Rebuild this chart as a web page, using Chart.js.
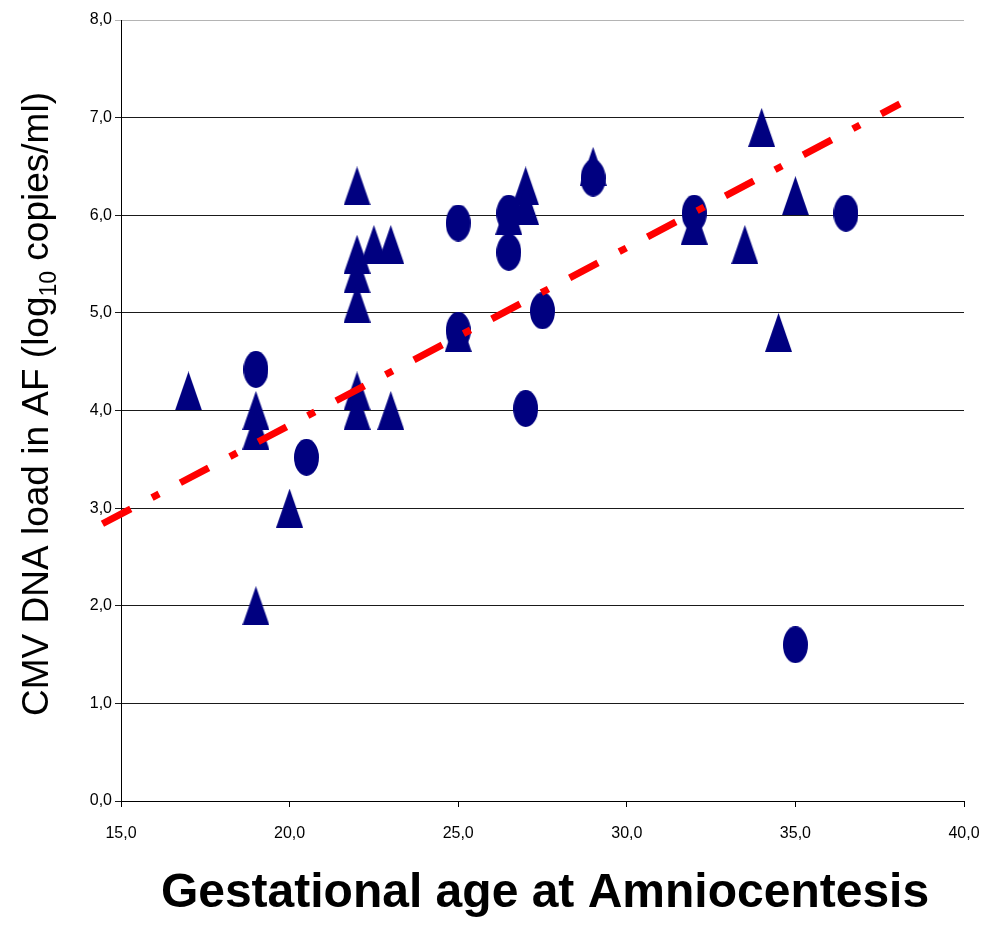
<!DOCTYPE html>
<html lang="en">
<head>
    <meta charset="UTF-8">
    <title>CMV DNA load in AF</title>
    <script src="https://cdn.jsdelivr.net/npm/chart.js"></script>
    <style>
        body { margin: 0; padding: 0; background-color: white; }
        #wrap { width: 981px; height: 925px; }
    </style>
</head>
<body>
    <div id="wrap"><canvas id="cmvChart" width="981" height="925"></canvas></div>
    <script>
        // Triangle markers (gestational age, log10 copies/ml)
        const triX = [17, 19, 19, 19, 20, 22, 22, 22, 22, 22, 22, 22.5, 23, 23, 25, 26.5, 27, 27, 29, 32, 33.5, 34, 34.5, 35];
        const triY = [4.2, 2.0, 4.0, 3.8, 3.0, 6.3, 5.6, 5.4, 5.1, 4.2, 4.0, 5.7, 5.7, 4.0, 4.8, 6.0, 6.3, 6.1, 6.5, 5.9, 5.7, 6.9, 4.8, 6.2];

        // Circle markers
        const circX = [19, 20.5, 25, 25, 26.5, 26.5, 27, 27.5, 29, 32, 35, 36.5];
        const circY = [4.42, 3.52, 5.92, 4.82, 6.02, 5.62, 4.02, 5.02, 6.38, 6.02, 1.6, 6.02];

        // Linear trend line (ends)
        const trendX = [14.45, 38.1];
        const trendY = [2.84, 7.14];

        const xTicks = [15, 20, 25, 30, 35, 40];
        const yTicks = [0, 1, 2, 3, 4, 5, 6, 7, 8];

        const navy = '#000080';
        const tickFont = { family: '"Liberation Sans Narrow", "Liberation Sans", Arial, sans-serif', size: 16 };

        function toPoints(xs, ys) {
            return xs.map((x, i) => ({ x: x, y: ys[i] }));
        }

        function fmt(v) {
            return Number(v).toFixed(1).replace('.', ',');
        }

        // Excel-like markers: tall triangle and tall ellipse
        function makeTriangle(w, h, color) {
            const c = document.createElement('canvas');
            c.width = w; c.height = h;
            const g = c.getContext('2d');
            g.fillStyle = color;
            g.beginPath();
            g.moveTo(w / 2, 0);
            g.lineTo(w, h);
            g.lineTo(0, h);
            g.closePath();
            g.fill();
            return c;
        }

        function makeEllipse(w, h, color) {
            const c = document.createElement('canvas');
            c.width = w; c.height = h;
            const g = c.getContext('2d');
            g.fillStyle = color;
            g.beginPath();
            g.ellipse(w / 2, h / 2, w / 2, h / 2, 0, 0, Math.PI * 2);
            g.fill();
            return c;
        }

        const triImg = makeTriangle(27, 39, navy);
        const ellImg = makeEllipse(25, 37, navy);

        // Axis titles (y title needs a real subscript)
        const axisTitles = {
            id: 'axisTitles',
            afterDraw(chart) {
                const ctx = chart.ctx;
                ctx.save();
                ctx.fillStyle = '#000';
                ctx.textBaseline = 'alphabetic';

                ctx.font = 'bold 48px "Liberation Sans", Arial, sans-serif';
                ctx.textAlign = 'center';
                ctx.fillText('Gestational age at Amniocentesis', 545, 907);

                const big = '37px "Liberation Sans", Arial, sans-serif';
                const small = '23px "Liberation Sans", Arial, sans-serif';
                const parts = [
                    ['CMV DNA load in AF (log', big, 0],
                    ['10', small, 8],
                    [' copies/ml)', big, 0]
                ];
                ctx.translate(48, 404);
                ctx.rotate(-Math.PI / 2);
                ctx.textAlign = 'left';
                let total = 0;
                parts.forEach(p => { ctx.font = p[1]; total += ctx.measureText(p[0]).width; });
                let x = -total / 2;
                parts.forEach(p => {
                    ctx.font = p[1];
                    ctx.fillText(p[0], x, p[2]);
                    x += ctx.measureText(p[0]).width;
                });
                ctx.restore();
            }
        };

        const ctx = document.getElementById('cmvChart').getContext('2d');
        new Chart(ctx, {
            type: 'scatter',
            data: {
                datasets: [{
                    label: 'Trend',
                    type: 'line',
                    data: toPoints(trendX, trendY),
                    borderColor: '#ff0000',
                    borderWidth: 7,
                    borderDash: [32, 24, 8, 24],
                    borderCapStyle: 'butt',
                    pointRadius: 0,
                    fill: false,
                    tension: 0,
                    clip: false,
                    order: 0
                }, {
                    label: 'Circles',
                    data: toPoints(circX, circY),
                    pointStyle: ellImg,
                    pointRadius: 13,
                    order: 1
                }, {
                    label: 'Triangles',
                    data: toPoints(triX, triY),
                    pointStyle: triImg,
                    pointRadius: 13,
                    order: 2
                }]
            },
            options: {
                responsive: false,
                animation: false,
                layout: { padding: { left: 0, right: 17, top: 20, bottom: 0 } },
                plugins: {
                    legend: { display: false },
                    tooltip: { enabled: false }
                },
                scales: {
                    x: {
                        type: 'linear',
                        min: 15,
                        max: 40,
                        afterBuildTicks: s => { s.ticks = xTicks.map(v => ({ value: v })); },
                        afterFit: s => { s.height = 124; s.paddingLeft = 0; s.paddingRight = 0; },
                        grid: { drawOnChartArea: false, drawTicks: true, tickLength: 6, color: '#000' },
                        border: { color: '#000', width: 1 },
                        ticks: { font: tickFont, color: '#000', padding: 17, maxRotation: 0, callback: v => fmt(v) }
                    },
                    y: {
                        type: 'linear',
                        min: 0,
                        max: 8,
                        afterBuildTicks: s => { s.ticks = yTicks.map(v => ({ value: v })); },
                        afterFit: s => { s.width = 121; s.paddingTop = 0; s.paddingBottom = 0; },
                        grid: {
                            drawTicks: true,
                            tickLength: 6,
                            color: c => (c.tick && c.tick.value === 8) ? '#b4b4b4' : '#1a1a1a'
                        },
                        border: { color: '#000', width: 1 },
                        ticks: { font: tickFont, color: '#000', padding: 3, callback: v => fmt(v) }
                    }
                }
            },
            plugins: [axisTitles]
        });
    </script>
</body>
</html>
